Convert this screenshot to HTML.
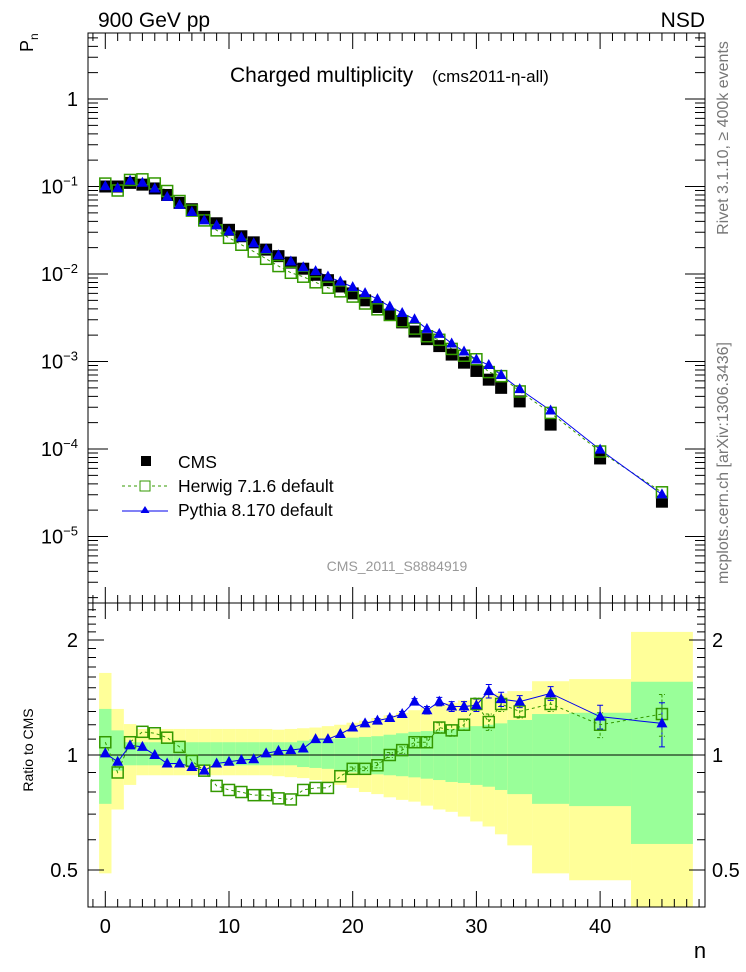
<!DOCTYPE html>
<html><head><meta charset="utf-8"><style>
html,body{margin:0;padding:0;background:#fff;}
svg{display:block;font-family:"Liberation Sans",sans-serif;}
</style></head><body>
<svg id="chart" width="746" height="972" viewBox="0 0 746 972" xmlns="http://www.w3.org/2000/svg">
<g id="bands"></g>
<g id="axes"></g>
<g id="series"></g>
<text x="98" y="27" font-size="21">900 GeV pp</text>
<text x="705" y="27" font-size="21" text-anchor="end">NSD</text>
<text x="230" y="82" font-size="21">Charged multiplicity</text>
<text x="432" y="82" font-size="17">(cms2011-η-all)</text>
<text x="397" y="571" font-size="14" fill="#999" text-anchor="middle">CMS_2011_S8884919</text>
<text transform="translate(728,138) rotate(-90)" font-size="16" fill="#777" text-anchor="middle">Rivet 3.1.10, ≥ 400k events</text>
<text transform="translate(728,463) rotate(-90)" font-size="16" fill="#777" text-anchor="middle">mcplots.cern.ch [arXiv:1306.3436]</text>
<text transform="translate(33,52) rotate(-90)" font-size="18">P<tspan font-size="12" dy="5">n</tspan></text>
<text transform="translate(33,750) rotate(-90)" font-size="14" text-anchor="middle">Ratio to CMS</text>
<text x="700" y="958" font-size="22" text-anchor="middle">n</text>
<g>
<rect x="141" y="456" width="10" height="10" fill="#000"/>
<text x="178" y="468" font-size="17.5">CMS</text>
<line x1="122" y1="486" x2="167" y2="486" stroke="#339900" stroke-dasharray="3,3"/>
<rect x="140" y="481" width="10" height="10" fill="#fff" stroke="#339900"/>
<text x="178" y="492" font-size="17.5">Herwig 7.1.6 default</text>
<line x1="122" y1="511" x2="168" y2="511" stroke="#0000ee"/>
<polygon points="145,506 149.5,513 140.5,513" fill="#0000ee"/>
<text x="178" y="516" font-size="17.5">Pythia 8.170 default</text>
</g>
</svg>
<script>
const nVals=[0,1,2,3,4,5,6,7,8,9,10,11,12,13,14,15,16,17,18,19,20,21,22,23,24,25,26,27,28,29,30,31,32,33.5,36,40,45];
const binLo=[-0.5,0.5,1.5,2.5,3.5,4.5,5.5,6.5,7.5,8.5,9.5,10.5,11.5,12.5,13.5,14.5,15.5,16.5,17.5,18.5,19.5,20.5,21.5,22.5,23.5,24.5,25.5,26.5,27.5,28.5,29.5,30.5,31.5,32.5,34.5,37.5,42.5];
const binHi=[0.5,1.5,2.5,3.5,4.5,5.5,6.5,7.5,8.5,9.5,10.5,11.5,12.5,13.5,14.5,15.5,16.5,17.5,18.5,19.5,20.5,21.5,22.5,23.5,24.5,25.5,26.5,27.5,28.5,29.5,30.5,31.5,32.5,34.5,37.5,42.5,47.5];
const cmsVals=[0.1,0.1,0.11,0.105,0.095,0.08,0.065,0.055,0.045,0.038,0.032,0.027,0.023,0.019,0.016,0.0135,0.0115,0.0098,0.0085,0.0072,0.006,0.005,0.0042,0.0034,0.0028,0.0022,0.0018,0.0015,0.0012,0.00097,0.00078,0.00062,0.0005,0.00035,0.00019,0.000078,0.000025];
const herwigRatio=[1.08,0.90,1.08,1.15,1.14,1.11,1.05,0.965,0.91,0.83,0.81,0.80,0.785,0.785,0.77,0.765,0.81,0.82,0.82,0.88,0.92,0.92,0.94,1.0,1.03,1.08,1.08,1.18,1.16,1.2,1.36,1.22,1.36,1.30,1.36,1.20,1.28];
const pythiaRatio=[1.01,0.96,1.06,1.05,1.0,0.95,0.95,0.93,0.91,0.95,0.96,0.97,0.975,1.01,1.025,1.03,1.04,1.10,1.10,1.135,1.18,1.21,1.23,1.25,1.28,1.38,1.31,1.38,1.34,1.34,1.35,1.47,1.40,1.38,1.45,1.26,1.21];
const mcErr=[0,0,0,0,0,0,0,0,0,0,0,0,0,0,0,0,0,0,0,0,0.01,0.01,0.015,0.015,0.02,0.025,0.03,0.035,0.04,0.04,0.05,0.06,0.06,0.05,0.06,0.09,0.16];
const yellowHi=[1.64,1.32,1.205,1.17,1.17,1.17,1.17,1.17,1.17,1.17,1.17,1.17,1.17,1.17,1.165,1.17,1.175,1.18,1.19,1.2,1.215,1.23,1.25,1.27,1.29,1.31,1.33,1.35,1.37,1.39,1.41,1.43,1.45,1.47,1.56,1.58,2.10];
const yellowLo=[0.49,0.72,0.835,0.885,0.885,0.885,0.885,0.885,0.885,0.885,0.885,0.885,0.885,0.885,0.88,0.875,0.87,0.86,0.85,0.835,0.82,0.80,0.79,0.775,0.763,0.755,0.737,0.72,0.71,0.69,0.67,0.65,0.62,0.58,0.49,0.47,0.40];
const greenHi=[1.32,1.16,1.08,1.08,1.08,1.08,1.08,1.08,1.08,1.08,1.08,1.08,1.08,1.08,1.08,1.08,1.09,1.10,1.10,1.105,1.11,1.115,1.12,1.13,1.14,1.15,1.155,1.16,1.17,1.18,1.19,1.20,1.21,1.235,1.28,1.29,1.555];
const greenLo=[0.745,0.91,0.94,0.94,0.94,0.94,0.94,0.94,0.94,0.94,0.94,0.94,0.94,0.94,0.94,0.94,0.93,0.925,0.92,0.91,0.90,0.895,0.89,0.885,0.88,0.874,0.867,0.86,0.85,0.845,0.835,0.826,0.81,0.79,0.745,0.735,0.585];
const xTicks=[0,10,20,30,40];
const mainExps=[-5,-4,-3,-2,-1,0];
const ratioTicks=[0.5,1,2];

const NS='http://www.w3.org/2000/svg';
const L=88,R=705,T=33,M=603,B=907;
const X=v=>105.3+(v)*12.37;
const Ymain=v=>99-Math.log10(v)*87.5;
const Yr=v=>{let y=755-Math.log2(v)*115;return Math.max(M,Math.min(B,y));};
function mk(tag,attrs,parent){const e=document.createElementNS(NS,tag);for(const k in attrs)e.setAttribute(k,attrs[k]);parent.appendChild(e);return e;}
const bands=document.getElementById('bands'),axes=document.getElementById('axes'),series=document.getElementById('series');

for(let i=0;i<nVals.length;i++){
  const x1=Math.max(L,X(binLo[i])),x2=Math.min(R,X(binHi[i]));
  const y=mk('rect',{x:x1,y:Yr(yellowHi[i]),width:x2-x1,height:Yr(yellowLo[i])-Yr(yellowHi[i]),fill:'#ffff99'},bands);
  
  
  const g=mk('rect',{x:x1,y:Yr(greenHi[i]),width:x2-x1,height:Yr(greenLo[i])-Yr(greenHi[i]),fill:'#99ff99'},bands);
  
  
}
for(const [t,b,nm] of [[T,M,'main-frame'],[M,B,'ratio-frame']]){
  const f=mk('rect',{x:L,y:t,width:R-L,height:b-t,fill:'none',stroke:'#000','stroke-width':1},axes);
  
  
}
const ref=mk('line',{x1:L,x2:R,y1:Yr(1),y2:Yr(1),stroke:'#000'},axes);


let tp='';
for(let v=-1;v<=48;v++){
  const x=X(v),len=(v%10===0)?16:8;
  tp+=`M${x},${T}v${len}M${x},${M}v${-len}M${x},${M}v${len}M${x},${B}v${-len}`;
}
for(let e=-6;e<=0;e++){for(let m=1;m<=9;m++){const v=m*Math.pow(10,e);const y=Ymain(v);if(y<T||y>M)continue;const len=m===1?20:10;tp+=`M${L},${y}h${len}M${R},${y}h${-len}`;}}
for(const v of [0.4,0.5,0.6,0.7,0.8,0.9,1,1.1,1.2,1.3,1.4,1.5,1.6,1.7,1.8,1.9,2,2.1,2.2,2.3,2.4,2.5]){const y=Yr(v);if(y<=M||y>=B)continue;const len=(v===0.5||v===1||v===2)?16:8;tp+=`M${L},${y}h${len}M${R},${y}h${-len}`;}
const tk=mk('path',{d:tp,stroke:'#000','stroke-width':1,fill:'none'},axes);


for(const v of xTicks){const t=mk('text',{x:X(v),y:933,'font-size':20,'text-anchor':'middle'},axes);t.textContent=v;

}
for(const e of mainExps){const t=mk('text',{x:78,y:Ymain(Math.pow(10,e))+7,'font-size':20,'text-anchor':'end'},axes);
if(e===0){t.textContent='1';}else{t.textContent='10';const s=mk('tspan',{dy:-8,'font-size':13},t);s.textContent=e===-1?'−1':'−'+(-e);}

}
for(const v of ratioTicks){for(const side of [0,1]){const t=mk('text',{x:side?712:78,y:Yr(v)+7,'font-size':20,'text-anchor':side?'start':'end'},axes);t.textContent=v;

}}

let hp='',pp='',hr='',pr='';
for(let i=0;i<nVals.length;i++){
  const x=X(nVals[i]);
  hp+=(i?'L':'M')+x+','+Ymain(cmsVals[i]*herwigRatio[i]);
  pp+=(i?'L':'M')+x+','+Ymain(cmsVals[i]*pythiaRatio[i]);
  hr+=(i?'L':'M')+x+','+Yr(herwigRatio[i]);
  pr+=(i?'L':'M')+x+','+Yr(pythiaRatio[i]);
}
const lines=[[hp,'#339900','3,3','herwig-line'],[pp,'#0000ee','','pythia-line'],[hr,'#339900','3,3','herwig-ratio-line'],[pr,'#0000ee','','pythia-ratio-line']];
for(const [d,c,da,nm] of lines){const p=mk('path',{d:d,stroke:c,fill:'none','stroke-width':1,'stroke-dasharray':da},series);

}
for(let i=0;i<nVals.length;i++){
  const x=X(nVals[i]);
  if(mcErr[i]>0){
    const e1=mk('path',{d:`M${x},${Yr(pythiaRatio[i]+mcErr[i])}V${Yr(pythiaRatio[i]-mcErr[i])}M${x-3},${Yr(pythiaRatio[i]+mcErr[i])}h6M${x-3},${Yr(pythiaRatio[i]-mcErr[i])}h6`,stroke:'#0000ee',fill:'none'},series);
    
    
    const e2=mk('path',{d:`M${x},${Yr(herwigRatio[i]+mcErr[i])}V${Yr(herwigRatio[i]-mcErr[i])}M${x-3},${Yr(herwigRatio[i]+mcErr[i])}h6M${x-3},${Yr(herwigRatio[i]-mcErr[i])}h6`,stroke:'#339900','stroke-dasharray':'3,2',fill:'none'},series);
    
    
  }
  const c=mk('rect',{x:x-6,y:Ymain(cmsVals[i])-6,width:12,height:12,fill:'#000'},series);
  
  
  for(const y of [Ymain(cmsVals[i]*herwigRatio[i]),Yr(herwigRatio[i])]){
    const h=mk('rect',{x:x-5.5,y:y-5.5,width:11,height:11,fill:'none',stroke:'#339900','stroke-width':1.5},series);
    
    
  }
  for(const y of [Ymain(cmsVals[i]*pythiaRatio[i]),Yr(pythiaRatio[i])]){
    const p=mk('polygon',{points:`${x},${y-6} ${x+5.5},${y+4} ${x-5.5},${y+4}`,fill:'#0000ee'},series);
    
    
  }
}
</script>
</body></html>
